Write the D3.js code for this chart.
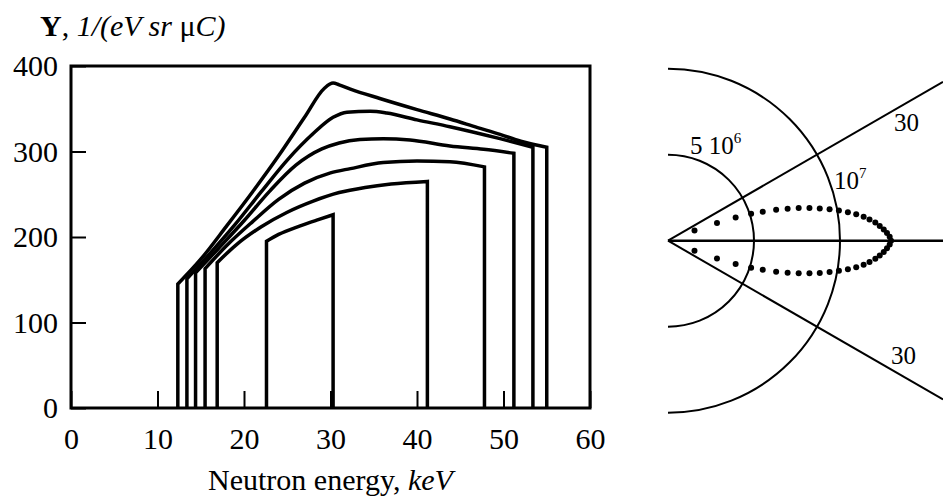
<!DOCTYPE html>
<html>
<head>
<meta charset="utf-8">
<script src="https://cdn.jsdelivr.net/npm/d3@7"></script>
<style>
  body { margin: 0; background: #fff; }
  svg { display: block; }
  text { font-family: "Liberation Serif", "DejaVu Serif", serif; fill: #000; }
</style>
</head>
<body>
<script>
// yield curves, one per case: energy (keV) and yield Y
var curveEnergy = [
  [12.35, 15, 18, 21, 24, 27, 29.3, 30.3, 31, 32.3, 35.7, 40, 43.8, 47, 49.6, 52, 55],
  [13.4, 16, 19, 22, 25, 28, 30.3, 31.9, 34.6, 36.5, 40, 43.8, 49.6, 53.4],
  [14.4, 17, 20, 23, 26, 29, 31, 33.4, 36.1, 39.2, 43.8, 47.7, 51.2],
  [15.5, 18, 21, 24, 27, 30, 32.3, 36.1, 40, 43.8, 47.8],
  [16.9, 19, 22, 25, 28, 31, 34, 37, 41.2],
  [22.6, 24, 26.5, 28.5, 30.3]
]
var curveYield = [
  [145, 174, 213, 253, 295, 340, 374, 380, 378, 373, 362, 349, 338, 328, 320, 312, 305],
  [151, 180, 215, 253, 290, 321, 340, 346, 347, 345, 337, 329, 315, 305],
  [158, 186, 219, 254, 284, 303, 310, 314, 315, 313.5, 306.5, 302.5, 298],
  [163, 190, 218, 244, 263, 275, 280, 287, 289, 288, 282],
  [170, 190, 212, 229, 242, 252, 258, 262, 265],
  [195, 203, 213, 220, 226]
]
var xTicks = [0, 10, 20, 30, 40, 50, 60]
var yTicks = [0, 100, 200, 300, 400]

// polar diagram: angle (deg) and yield (10^6 units)
var dotAngle = [0, 1, 2, 3, 4, 5, 6, 7, 8, 9, 10, 11, 12, 13, 14, 15, 16, 17, 18, 19, 20, 21]
var dotYield = [12.97, 12.89, 12.74, 12.56, 12.34, 12.10, 11.78, 11.46, 11.05, 10.59, 10.09,
                9.57, 9.02, 8.44, 7.83, 7.20, 6.54, 5.76, 5.08, 4.16, 3.03, 1.65]
var arcYield = [5, 10]
var rayAngle = [30, 0, -30]

var svg = d3.select("body").append("svg")
  .attr("width", 943)
  .attr("height", 504)

var x = d3.scaleLinear().domain([0, 60]).range([71, 590])
var y = d3.scaleLinear().domain([0, 400]).range([408, 66])

// axes with inward ticks
var xAxis = svg.append("g")
  .attr("transform", "translate(0," + y(0) + ")")
  .call(d3.axisBottom(x).tickValues(xTicks).tickSize(-17).tickPadding(20))
var yAxis = svg.append("g")
  .attr("transform", "translate(" + x(0) + ",0)")
  .call(d3.axisLeft(y).tickValues(yTicks).tickSize(-15).tickPadding(13))

svg.selectAll(".domain").remove()
svg.selectAll(".tick line").attr("stroke", "#000").attr("stroke-width", 2)
svg.selectAll(".tick text")
  .attr("font-family", "Liberation Serif")
  .attr("font-size", 30)
  .attr("fill", "#000")

svg.append("rect")
  .attr("x", x(0))
  .attr("y", y(400))
  .attr("width", x(60) - x(0))
  .attr("height", y(0) - y(400))
  .attr("fill", "none")
  .attr("stroke", "#000")
  .attr("stroke-width", 3)

var line = d3.line()
  .x(function(d){ return x(d[0]) })
  .y(function(d){ return y(d[1]) })
  .curve(d3.curveMonotoneX)

curveEnergy.forEach(function(es, i){
  var pts = es.map(function(e, j){ return [e, curveYield[i][j]] })
  var top = line(pts)
  var first = es[0], last = es[es.length - 1]
  var d = "M" + x(first) + "," + y(0) + "L" + top.slice(1) + "L" + x(last) + "," + y(0)
  svg.append("path")
    .attr("d", d)
    .attr("fill", "none")
    .attr("stroke", "#000")
    .attr("stroke-width", 3.5)
    .attr("stroke-linejoin", "miter")
})

// axis titles
var yt = svg.append("text")
  .attr("x", 40)
  .attr("y", 36)
  .attr("font-size", 30)
yt.append("tspan").attr("font-weight", "bold").text("Y")
yt.append("tspan").text(", ")
yt.append("tspan").attr("font-style", "italic").text("1/(eV sr ")
yt.append("tspan").text("\u03bc")
yt.append("tspan").attr("font-style", "italic").text("C)")

var xt = svg.append("text")
  .attr("x", (x(0) + x(60)) / 2)
  .attr("y", 490)
  .attr("text-anchor", "middle")
  .attr("font-size", 30)
xt.append("tspan").text("Neutron energy, ")
xt.append("tspan").attr("font-style", "italic").text("keV")

// polar diagram
var cx = 668, cy = 240.7
var r = d3.scaleLinear().domain([0, 10]).range([0, 172])
var pol = svg.append("g").attr("transform", "translate(" + cx + "," + cy + ")")

var arc = d3.arc()
  .startAngle(0)
  .endAngle(Math.PI)

arcYield.forEach(function(v){
  pol.append("path")
    .attr("d", arc.innerRadius(r(v)).outerRadius(r(v))())
    .attr("fill", "none")
    .attr("stroke", "#000")
    .attr("stroke-width", 2)
})

pol.selectAll("line.ray")
  .data(rayAngle)
  .enter()
  .append("line")
  .classed("ray", true)
  .attr("x1", 0)
  .attr("y1", 0)
  .attr("x2", function(a){ return 943 - cx })
  .attr("y2", function(a){ return -(943 - cx) * Math.tan(a * Math.PI / 180) })
  .attr("stroke", "#000")
  .attr("stroke-width", function(a){ return a == 0 ? 2.5 : 2 })

var dots = []
dotAngle.forEach(function(a, i){
  dots.push([a, dotYield[i]])
  if (a != 0) dots.push([-a, dotYield[i]])
})

pol.selectAll("circle")
  .data(dots)
  .enter()
  .append("circle")
  .attr("cx", function(d){ return r(d[1]) * Math.cos(d[0] * Math.PI / 180) })
  .attr("cy", function(d){ return -r(d[1]) * Math.sin(d[0] * Math.PI / 180) })
  .attr("r", 3)
  .attr("fill", "#000")

// labels on the diagram
var l1 = svg.append("text").attr("x", 690).attr("y", 154).attr("font-size", 25)
l1.append("tspan").text("5 10")
l1.append("tspan").attr("font-size", 15).attr("dy", -11).text("6")

var l2 = svg.append("text").attr("x", 834).attr("y", 189).attr("font-size", 25)
l2.append("tspan").text("10")
l2.append("tspan").attr("font-size", 15).attr("dy", -11).text("7")

svg.append("text").attr("x", 894).attr("y", 131).attr("font-size", 25).text("30")
svg.append("text").attr("x", 891).attr("y", 364).attr("font-size", 25).text("30")
</script>
</body>
</html>
